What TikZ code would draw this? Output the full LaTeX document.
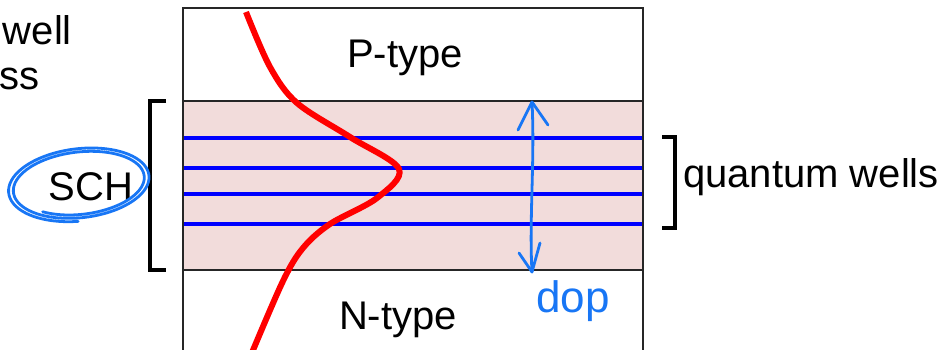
\documentclass[tikz,border=0pt]{standalone}
\usepackage{fontspec}
\setmainfont{Liberation Sans}
\definecolor{pinkfill}{RGB}{242,220,219}
\definecolor{handblue}{RGB}{24,118,245}
\definecolor{wellblue}{RGB}{0,0,255}
\definecolor{modered}{RGB}{255,0,0}
\begin{document}
\begin{tikzpicture}[x=1pt,y=-1pt,
  lbl/.style={font=\fontsize{40}{48}\selectfont, inner sep=0pt},
  handlbl/.style={font=\fontsize{44}{50}\selectfont, text=handblue, inner sep=0pt},
  boxline/.style={draw=black!85, line width=1.2pt},
  wellline/.style={draw=wellblue, line width=4pt},
  bracketline/.style={draw=black, line width=3.6pt},
  handline/.style={draw=handblue, line width=2.8pt, line cap=round, line join=round},
  moderline/.style={draw=modered, line width=6pt}]
\useasboundingbox (0,0) rectangle (947,350);
\clip (0,0) rectangle (947,350);
% layers
\fill[pinkfill] (183,101) rectangle (643,270);
\draw[boxline] (183,360) -- (183,8) -- (643,8) -- (643,360);
\draw[boxline] (183,101) -- (643,101);
\draw[boxline] (183,270) -- (643,270);
% quantum wells
\foreach \yy in {138,168,194,224} \draw[wellline] (184,\yy) -- (642,\yy);
% optical mode
\draw[moderline] plot[smooth, tension=0.55] coordinates {(246,12) (270,67) (297,103) (350,137) (399,169) (377,198) (330,224) (303,248) (283,281) (251,355)};
% labels
\node[lbl, anchor=base] (ptype) at (405,68) {P-type};
\node[lbl, anchor=base] (ntype) at (398,329) {N-type};
\node[lbl, anchor=base] (sch) at (91,200) {SCH};
\node[lbl, anchor=base west] (qw) at (683,187) {quantum wells};
\node[lbl, anchor=base east] (well) at (72,45) {well};
\node[lbl, anchor=base east] (ss) at (40,90) {ss};
% brackets
\draw[bracketline] (166,101) -- (150,101) -- (150,270) -- (166,270);
\draw[bracketline] (662,137) -- (675,137) -- (675,228) -- (662,228);
% hand-drawn circle around SCH
\draw[handline, rotate around={7:(80,184)}] plot[domain=95:850, samples=160, smooth]
  ({80+(73-10*(\x-95)/755)*cos(\x)}, {184+(37-7*(\x-95)/755)*sin(\x)});
% hand-drawn thickness arrow
\coordinate (dtop) at (532,102);
\coordinate (dbot) at (532,272);
\draw[handline] (dtop) .. controls (535,160) and (529,220) .. (dbot);
\draw[handline] ([shift={(-14,28)}]dtop) -- (dtop) -- ([shift={(16,23)}]dtop);
\draw[handline] ([shift={(-13,-19)}]dbot) -- (dbot) -- ([shift={(8,-29)}]dbot);
\node[handlbl, anchor=base west] (dop) at (536,312) {dop};
\end{tikzpicture}
\end{document}
